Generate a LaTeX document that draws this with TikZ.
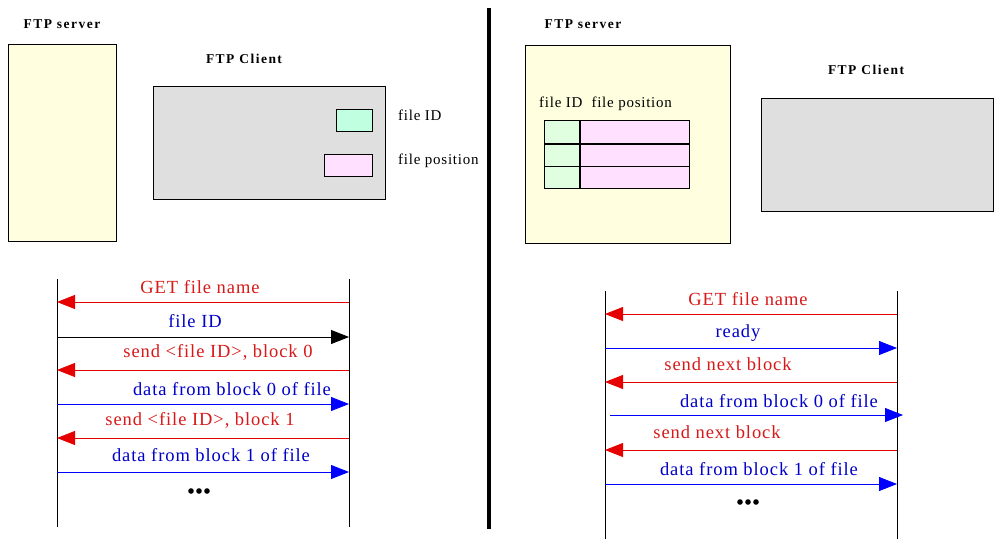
\documentclass[tikz,border=0pt]{standalone}
\usepackage{fontspec}
\setmainfont{Liberation Serif}
\usetikzlibrary{arrows.meta}
\definecolor{srvfill}{RGB}{255,255,224}
\definecolor{clifill}{RGB}{223,223,223}
\definecolor{idfill}{RGB}{192,255,224}
\definecolor{idfillb}{RGB}{224,255,224}
\definecolor{posfill}{RGB}{255,224,255}
\definecolor{msgred}{RGB}{230,0,0}
\definecolor{txtred}{RGB}{215,25,25}
\definecolor{msgblue}{RGB}{0,0,255}
\definecolor{txtblue}{RGB}{0,0,200}
\tikzset{
  box/.style={draw=black, line width=0.8pt},
  title/.style={font=\fontsize{13.5}{15}\selectfont\bfseries\addfontfeatures{LetterSpace=11}, inner sep=0pt},
  small/.style={font=\fontsize{15}{17}\selectfont\addfontfeatures{LetterSpace=5}, inner sep=0pt},
  msg/.style={font=\fontsize{18.5}{20}\selectfont\addfontfeatures{LetterSpace=5}, inner sep=0pt},
  life/.style={line width=0.8pt},
  arr/.style={line width=0.8pt, -{Triangle[length=18pt,width=14pt]}},
}
\begin{document}
\begin{tikzpicture}[x=1pt,y=-1pt]
\useasboundingbox (0,0) rectangle (1001,547);
\fill[white] (0,0) rectangle (1001,547);
% ---------------- left half ----------------
\node[title] (lsrvT) at (62,24) {FTP server};
\node[box, fill=srvfill, minimum width=108pt, minimum height=197pt, anchor=north west] (lsrv) at (8,44) {};
\node[title] (lcliT) at (244,59) {FTP Client};
\node[box, fill=clifill, minimum width=232pt, minimum height=113pt, anchor=north west] (lcli) at (153,86) {};
\node[box, fill=idfill, minimum width=36pt, minimum height=22pt, anchor=north west] (lid) at (336,109) {};
\node[box, fill=posfill, minimum width=48pt, minimum height=22pt, anchor=north west] (lpos) at (324,154) {};
\node[small, anchor=west] (lidT) at (398,115) {file ID};
\node[small, anchor=west] (lposT) at (398,161) {file position};
% divider
\coordinate (divT) at (489,8);
\coordinate (divB) at (489,529);
\draw[line width=3.5pt] (divT) -- (divB);
% ---------------- right half ----------------
\node[title] (rsrvT) at (583,24) {FTP server};
\node[box, fill=srvfill, minimum width=205pt, minimum height=198pt, anchor=north west] (rsrv) at (525,45) {};
\node[small, anchor=west] (rhead) at (539,104) {file ID\hspace{9pt}file position};
\node[title] (rcliT) at (866,70) {FTP Client};
\node[box, fill=clifill, minimum width=232pt, minimum height=113pt, anchor=north west] (rcli) at (761,98) {};
% table
\node[draw=black, line width=0.8pt, fill=idfillb, minimum width=36pt, minimum height=68pt, anchor=north west] (tid) at (544,120) {};
\node[draw=black, line width=0.8pt, fill=posfill, minimum width=109pt, minimum height=68pt, anchor=north west] (tpos) at (580,120) {};
\draw[line width=2pt] (tpos.north west) -- (tpos.south west);
\draw[line width=1.6pt] ([yshift=-24pt]tid.north west) -- ([yshift=-24pt]tpos.north east);
\draw[line width=0.8pt] ([yshift=-46pt]tid.north west) -- ([yshift=-46pt]tpos.north east);
% ---------------- left sequence ----------------
\coordinate (LsT) at (57,279); \coordinate (LsB) at (57,527);
\coordinate (LcT) at (349,279); \coordinate (LcB) at (349,527);
\draw[life] (LsT) -- (LsB);
\draw[life] (LcT) -- (LcB);
\coordinate (l1a) at (349,302); \coordinate (l1b) at (57,302);
\coordinate (l2a) at (57,337);  \coordinate (l2b) at (349,337);
\coordinate (l3a) at (349,370); \coordinate (l3b) at (57,370);
\coordinate (l4a) at (57,404);  \coordinate (l4b) at (349,404);
\coordinate (l5a) at (349,438); \coordinate (l5b) at (57,438);
\coordinate (l6a) at (57,472);  \coordinate (l6b) at (349,472);
\draw[arr, msgred] (l1a) -- (l1b);
\draw[arr, black] (l2a) -- (l2b);
\draw[arr, msgred] (l3a) -- (l3b);
\draw[arr, msgblue] (l4a) -- (l4b);
\draw[arr, msgred] (l5a) -- (l5b);
\draw[arr, msgblue] (l6a) -- (l6b);
\node[msg, text=txtred] (lm1) at (200,287) {GET file name};
\node[msg, text=txtblue] (lm2) at (195,321) {file ID};
\node[msg, text=txtred] (lm3) at (218,352) {send <file ID>, block 0};
\node[msg, text=txtblue] (lm4) at (232,389) {data from block 0 of file};
\node[msg, text=txtred] (lm5) at (200,420) {send <file ID>, block 1};
\node[msg, text=txtblue] (lm6) at (211,455) {data from block 1 of file};
\node[inner sep=0pt] (ldots) at (199,491) {\tikz[x=1pt,y=1pt]{\fill (0,0) circle (2.8pt) (8,0) circle (2.8pt) (16,0) circle (2.8pt);}};
% ---------------- right sequence ----------------
\coordinate (RsT) at (605,291); \coordinate (RsB) at (605,539);
\coordinate (RcT) at (897,291); \coordinate (RcB) at (897,539);
\draw[life] (RsT) -- (RsB);
\draw[life] (RcT) -- (RcB);
\coordinate (r1a) at (897,314); \coordinate (r1b) at (605,314);
\coordinate (r2a) at (605,348); \coordinate (r2b) at (897,348);
\coordinate (r3a) at (897,382); \coordinate (r3b) at (605,382);
\coordinate (r4a) at (610,415); \coordinate (r4b) at (903,415);
\coordinate (r5a) at (897,450); \coordinate (r5b) at (605,450);
\coordinate (r6a) at (605,484); \coordinate (r6b) at (897,484);
\draw[arr, msgred] (r1a) -- (r1b);
\draw[arr, msgblue] (r2a) -- (r2b);
\draw[arr, msgred] (r3a) -- (r3b);
\draw[arr, msgblue] (r4a) -- (r4b);
\draw[arr, msgred] (r5a) -- (r5b);
\draw[arr, msgblue] (r6a) -- (r6b);
\node[msg, text=txtred] (rm1) at (748,299) {GET file name};
\node[msg, text=txtblue] (rm2) at (738,333) {ready};
\node[msg, text=txtred] (rm3) at (728,364) {send next block};
\node[msg, text=txtblue] (rm4) at (779,401) {data from block 0 of file};
\node[msg, text=txtred] (rm5) at (717,432) {send next block};
\node[msg, text=txtblue] (rm6) at (759,469) {data from block 1 of file};
\node[inner sep=0pt] (rdots) at (748,502) {\tikz[x=1pt,y=1pt]{\fill (0,0) circle (2.8pt) (8,0) circle (2.8pt) (16,0) circle (2.8pt);}};
\end{tikzpicture}
\end{document}
